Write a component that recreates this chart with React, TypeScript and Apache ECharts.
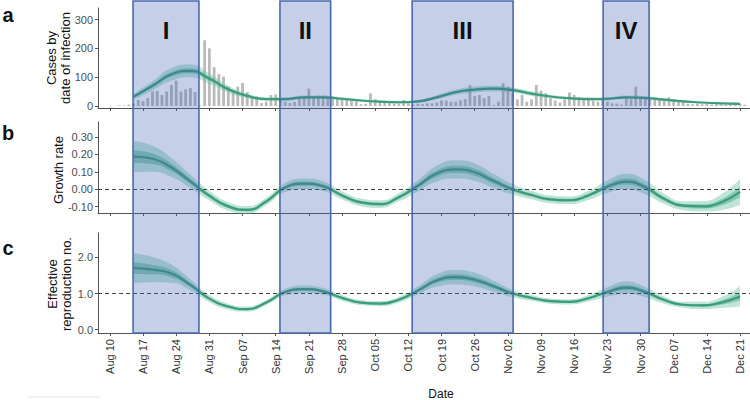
import React, { useEffect, useRef } from "react";
import * as echarts from "echarts";

// ---------- axis / tick definitions (days since Aug 10, 2020) ----------
const tickDays = [0, 7, 14, 21, 28, 35, 42, 49, 56, 63, 70, 77, 84, 91, 98, 105, 112, 119, 126, 133];
const tickLabels = [
  "Aug 10", "Aug 17", "Aug 24", "Aug 31", "Sep 07", "Sep 14", "Sep 21", "Sep 28", "Oct 05", "Oct 12",
  "Oct 19", "Oct 26", "Nov 02", "Nov 09", "Nov 16", "Nov 23", "Nov 30", "Dec 07", "Dec 14", "Dec 21",
];
const X_MIN = -2.5;
const X_MAX = 135.1;

// ---------- periods of growth ----------
const periodNames = ["I", "II", "III", "IV"];
const periodStart = [4.9, 35.9, 63.8, 104.1];
const periodEnd = [18.8, 46.6, 85.1, 113.8];

// ---------- daily cases by date of infection (from Aug 8 = day -2) ----------
const barFirstDay = -2;
const dailyCases = [
  0, 0, 0, 0,
  2, 2, 5, 8,
  21, 17, 27, 50, 52, 38, 50, 73, 88, 50, 58, 62, 48, 3,
  228, 200, 135, 110, 102, 68, 50, 67, 80, 48, 35, 33, 10, 15, 38, 40, 20, 15, 10, 14,
  27, 33, 60, 33, 36, 36, 33, 33, 29, 27, 24, 17, 15, 6, 8, 44, 24, 17, 15, 13,
  9, 9, 21, 9, 5, 8, 6, 9, 9, 12, 19, 19, 15, 15, 20, 24, 73, 35, 38, 27,
  35, 3, 15, 79, 67, 44, 23, 38, 15, 23, 73, 53, 44, 27, 19, 12, 23, 47, 38, 30,
  27, 30, 19, 15, 21, 15, 9, 8, 5, 30, 23, 67, 30, 30, 23, 23, 21, 21, 30, 23,
  19, 15, 8, 6, 8, 6, 7, 5, 6, 5, 4, 6, 12, 8, 4,
];

// ---------- smoothed estimates, sampled days ----------
const estDays = [5, 9, 13, 17, 21, 25, 29, 33, 37, 41, 45, 49, 53, 57, 61, 65, 69, 73, 77, 81, 85, 89, 93, 97, 101, 105, 109, 113, 117, 121, 125, 129, 133];

const casesMid = [32, 70, 110, 122, 95, 58, 35, 24, 24, 30, 30, 25, 19, 15, 13, 16, 30, 48, 57, 60, 55, 43, 33, 27, 24, 25, 30, 28, 22, 16, 12, 9, 7];
const casesHw90 = [10, 16, 22, 22, 18, 12, 8, 6, 6, 6, 6, 5, 4, 4, 4, 5, 7, 9, 10, 10, 9, 8, 6, 5, 5, 5, 6, 6, 5, 4, 3, 3, 3];
const casesHw50 = [4, 6, 8, 8, 7, 5, 3, 2, 2, 2, 2, 2, 2, 2, 2, 2, 3, 3, 4, 4, 3, 3, 2, 2, 2, 2, 2, 2, 2, 2, 1, 1, 1];

const growthMid = [0.187, 0.175, 0.125, 0.045, -0.037, -0.098, -0.118, -0.07, 0.01, 0.032, 0.018, -0.035, -0.075, -0.085, -0.045, 0.02, 0.09, 0.114, 0.098, 0.048, 0.0, -0.033, -0.058, -0.063, -0.035, 0.015, 0.044, 0.012, -0.055, -0.094, -0.098, -0.075, -0.015];
const growthHw90 = [0.09, 0.075, 0.055, 0.038, 0.028, 0.024, 0.022, 0.022, 0.026, 0.03, 0.028, 0.024, 0.022, 0.022, 0.024, 0.032, 0.045, 0.052, 0.05, 0.04, 0.03, 0.024, 0.022, 0.022, 0.026, 0.036, 0.045, 0.04, 0.03, 0.026, 0.03, 0.045, 0.075];
const growthHw50 = [0.036, 0.03, 0.022, 0.015, 0.011, 0.01, 0.009, 0.009, 0.01, 0.012, 0.011, 0.01, 0.009, 0.009, 0.01, 0.013, 0.018, 0.021, 0.02, 0.016, 0.012, 0.01, 0.009, 0.009, 0.01, 0.014, 0.018, 0.016, 0.012, 0.01, 0.012, 0.018, 0.03];

const rMid = [1.7, 1.66, 1.55, 1.24, 0.86, 0.64, 0.57, 0.75, 1.04, 1.12, 1.06, 0.88, 0.75, 0.72, 0.83, 1.08, 1.36, 1.45, 1.38, 1.2, 1.0, 0.88, 0.79, 0.77, 0.87, 1.04, 1.16, 1.04, 0.82, 0.69, 0.67, 0.75, 0.92];
const rHw90 = [0.42, 0.35, 0.25, 0.15, 0.1, 0.08, 0.07, 0.07, 0.09, 0.1, 0.09, 0.08, 0.07, 0.07, 0.08, 0.11, 0.17, 0.2, 0.19, 0.15, 0.1, 0.08, 0.07, 0.07, 0.09, 0.13, 0.17, 0.14, 0.1, 0.08, 0.1, 0.15, 0.28];
const rHw50 = [0.16, 0.13, 0.1, 0.06, 0.04, 0.03, 0.03, 0.03, 0.035, 0.04, 0.035, 0.03, 0.03, 0.03, 0.03, 0.045, 0.065, 0.08, 0.075, 0.06, 0.04, 0.03, 0.03, 0.03, 0.035, 0.05, 0.065, 0.055, 0.04, 0.03, 0.04, 0.06, 0.11];

// ---------- y axes ----------
const casesTicks = [0, 100, 200, 300];
const growthTicks = [-0.1, 0, 0.1, 0.2, 0.3];
const rTicks = [0, 1, 2];

const DAY0 = Date.UTC(2020, 7, 10);
const DAY_MS = 86400000;
const ts = (d: number) => DAY0 + d * DAY_MS;

const FONT = '"Liberation Sans", Arial, Helvetica, sans-serif';
const OUTER_FILL = "rgba(102,194,160,0.42)";
const INNER_FILL = "rgba(58,160,126,0.42)";
const LINE_COLOR = "#3c9c7e";
const AXIS_COLOR = "#555";

// bands are stacked on hidden time axes (xAxisIndex 3..5) so that y is the stacked dimension
function bandSeries(idx: number, mid: number[], hw90: number[], hw50: number[], refLine: number | null) {
  const lo90 = mid.map((m, i) => [ts(estDays[i]), m - hw90[i]]);
  const d90 = mid.map((m, i) => [ts(estDays[i]), 2 * hw90[i]]);
  const lo50 = mid.map((m, i) => [ts(estDays[i]), m - hw50[i]]);
  const d50 = mid.map((m, i) => [ts(estDays[i]), 2 * hw50[i]]);
  const common = {
    type: "line",
    xAxisIndex: idx + 3,
    yAxisIndex: idx,
    smooth: 0.5,
    symbol: "none",
    stackStrategy: "all",
    silent: true,
  };
  const out: any[] = [
    { ...common, name: `lo90-${idx}`, data: lo90, stack: `s90-${idx}`, lineStyle: { opacity: 0 }, z: 3 },
    { ...common, name: `b90-${idx}`, data: d90, stack: `s90-${idx}`, lineStyle: { opacity: 0 }, areaStyle: { color: OUTER_FILL, opacity: 1 }, z: 3 },
    { ...common, name: `lo50-${idx}`, data: lo50, stack: `s50-${idx}`, lineStyle: { opacity: 0 }, z: 4 },
    { ...common, name: `b50-${idx}`, data: d50, stack: `s50-${idx}`, lineStyle: { opacity: 0 }, areaStyle: { color: INNER_FILL, opacity: 1 }, z: 4 },
  ];
  const midSeries: any = {
    type: "line",
    name: `mid-${idx}`,
    xAxisIndex: idx,
    yAxisIndex: idx,
    smooth: 0.5,
    symbol: "none",
    silent: true,
    data: mid.map((m, i) => [estDays[i], m]),
    lineStyle: { color: LINE_COLOR, width: 2.2 },
    z: 5,
  };
  if (refLine !== null) {
    midSeries.markLine = {
      silent: true,
      symbol: ["none", "none"],
      label: { show: false },
      lineStyle: { type: [4, 3], color: "#444", width: 1.2 },
      data: [{ yAxis: refLine }],
      z: 6,
    };
  }
  out.push(midSeries);
  return out;
}

export default function App() {
  const ref = useRef<HTMLDivElement>(null);

  useEffect(() => {
    if (!ref.current) return;
    const chart = echarts.init(ref.current, undefined, { renderer: "svg" });

    const grids = [
      { left: 98, right: 0, top: 8, height: 100 },
      { left: 98, right: 0, top: 122, height: 91 },
      { left: 98, right: 0, top: 233, height: 100 },
    ];

    const xAxes: any[] = [0, 1, 2].map((i) => ({
      type: "value",
      gridIndex: i,
      min: X_MIN,
      max: X_MAX,
      axisLine: { show: true, onZero: false, lineStyle: { color: AXIS_COLOR, width: 1 } },
      axisTick: { show: true, length: 3, customValues: tickDays, lineStyle: { color: AXIS_COLOR } },
      axisLabel: {
        show: i === 2,
        customValues: tickDays,
        rotate: 90,
        fontSize: 11,
        color: "#333",
        margin: 6,
        fontFamily: FONT,
        formatter: (v: number) => {
          const k = tickDays.indexOf(Math.round(v));
          return k >= 0 ? tickLabels[k] : "";
        },
      },
      splitLine: { show: false },
    }));
    [0, 1, 2].forEach((i) => {
      xAxes.push({
        type: "time",
        gridIndex: i,
        position: "top",
        show: false,
        min: ts(X_MIN),
        max: ts(X_MAX),
        splitLine: { show: false },
      });
    });

    const yCommon = (i: number, min: number, max: number, ticks: number[], dec: number) => ({
      type: "value",
      gridIndex: i,
      min,
      max,
      axisLine: { show: true, onZero: false, lineStyle: { color: AXIS_COLOR, width: 1 } },
      axisTick: { show: true, length: 3, customValues: ticks, lineStyle: { color: AXIS_COLOR } },
      axisLabel: {
        customValues: ticks,
        fontSize: 11,
        color: "#4d4d4d",
        margin: 5,
        fontFamily: FONT,
        formatter: (v: number) => (dec === 0 ? String(Math.round(v)) : v.toFixed(dec)),
      },
      splitLine: { show: false },
    });

    const CASES_MIN = -7, CASES_MAX = 340;
    const G_MIN = -0.136, G_MAX = 0.386;
    const R_MIN = -0.09, R_MAX = 2.67;

    const yAxes = [
      yCommon(0, CASES_MIN, CASES_MAX, casesTicks, 0),
      yCommon(1, G_MIN, G_MAX, growthTicks, 2),
      yCommon(2, R_MIN, R_MAX, rTicks, 1),
    ];

    const series: any[] = [
      {
        type: "bar",
        name: "cases",
        xAxisIndex: 0,
        yAxisIndex: 0,
        barWidth: 2.8,
        silent: true,
        itemStyle: { color: "#bababa" },
        data: dailyCases.map((v, i) => [barFirstDay + i, v]),
        z: 2,
      },
      ...bandSeries(0, casesMid, casesHw90, casesHw50, null),
      ...bandSeries(1, growthMid, growthHw90, growthHw50, 0),
      ...bandSeries(2, rMid, rHw90, rHw50, 1),
    ];

    chart.setOption({
      animation: false,
      backgroundColor: "#ffffff",
      textStyle: { fontFamily: FONT },
      grid: grids,
      xAxis: xAxes,
      yAxis: yAxes,
      series,
    });

    // overlay period rectangles via the axes' own scales
    const yTop = (chart.convertToPixel({ yAxisIndex: 0 }, CASES_MAX) as number) - 7;
    const yBottom = chart.convertToPixel({ yAxisIndex: 2 }, R_MIN) as number;
    const graphics: any[] = [];
    periodNames.forEach((name, i) => {
      const x0 = chart.convertToPixel({ xAxisIndex: 2 }, periodStart[i]) as number;
      const x1 = chart.convertToPixel({ xAxisIndex: 2 }, periodEnd[i]) as number;
      graphics.push({
        type: "rect",
        silent: true,
        z: 50,
        shape: { x: x0, y: yTop, width: x1 - x0, height: yBottom - yTop },
        style: { fill: "rgba(62,96,180,0.30)", stroke: "#4a69ad", lineWidth: 1.6 },
      });
      graphics.push({
        type: "text",
        silent: true,
        z: 60,
        x: (x0 + x1) / 2,
        y: 30,
        style: {
          text: name,
          font: `bold 24px ${FONT}`,
          fill: "#111",
          align: "center",
          verticalAlign: "middle",
          textAlign: "center",
          textVerticalAlign: "middle",
        },
      });
    });

    const label = (text: string, x: number, y: number, size: number, bold: boolean, rot = 0, lh = 14) => ({
      type: "text",
      silent: true,
      z: 60,
      x,
      y,
      rotation: rot,
      style: {
        text,
        font: `${bold ? "bold " : ""}${size}px ${FONT}`,
        fill: "#111",
        lineHeight: lh,
        align: "center",
        verticalAlign: "middle",
        textAlign: "center",
        textVerticalAlign: "middle",
      },
    });

    graphics.push(label("a", 8, 15, 20, true));
    graphics.push(label("b", 8, 133, 20, true));
    graphics.push(label("c", 8, 248, 20, true));
    graphics.push(label("Cases by\ndate of infection", 58, 58, 13, false, Math.PI / 2));
    graphics.push(label("Growth rate", 58, 170, 13, false, Math.PI / 2));
    graphics.push(label("Effective\nreproduction no.", 59, 284, 13, false, Math.PI / 2));
    graphics.push(label("Date", 441, 394, 12, false));
    graphics.push({
      type: "line",
      silent: true,
      shape: { x1: 28, y1: 397, x2: 100, y2: 397 },
      style: { stroke: "#e4e4e4", lineWidth: 1 },
    });

    chart.setOption({ graphic: graphics });

    return () => chart.dispose();
  }, []);

  return (
    <div
      ref={ref}
      style={{ position: "absolute", left: 0, top: 0, width: 750, height: 400, background: "#fff" }}
    />
  );
}
